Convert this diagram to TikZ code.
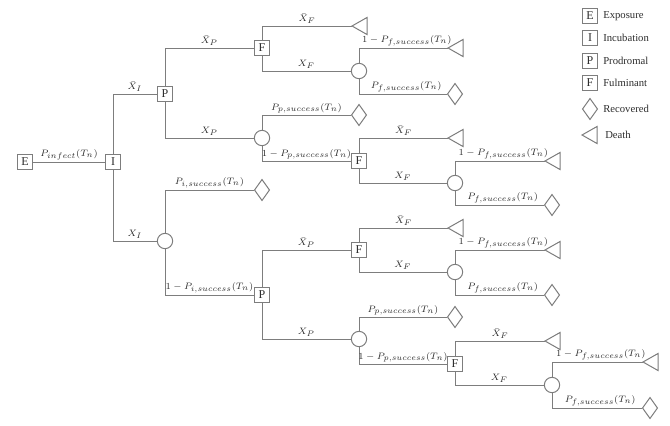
\documentclass[tikz,border=0pt]{standalone}
\usepackage{fontspec}
\setmainfont{Liberation Serif}
\DeclareMathSizes{7.5}{7.5}{6}{5}
\usetikzlibrary{shapes.geometric}
\definecolor{linegray}{RGB}{125,125,125}
\definecolor{txt}{RGB}{45,45,45}
\newcommand\deathmark[1]{\draw[shp] (#1) -- ++(15,-8.5) -- ++(0,17) -- cycle;}
\begin{document}
\begin{tikzpicture}[x=0.75pt,y=-0.75pt,
  ln/.style={draw=linegray, line width=0.75pt},
  shp/.style={draw=linegray, line width=0.75pt, fill=white},
  box/.style={shp, rectangle, minimum width=11.5pt, minimum height=11.5pt, inner sep=0pt, text=txt, font=\fontsize{9}{10}\selectfont},
  chance/.style={shp, circle, minimum size=11.5pt, inner sep=0pt},
  recov/.style={shp, diamond, minimum width=11.5pt, minimum height=16pt, inner sep=0pt},
  lab/.style={above, inner sep=1.2pt, text=txt, font=\fontsize{7.5}{8.5}\selectfont},
  flab/.style={lab, xshift=2.5pt},
  legtext/.style={anchor=west, inner sep=0pt, text=txt, font=\fontsize{8}{9}\selectfont},
]
\useasboundingbox (0,0) rectangle (670,425);

% decision / chance / outcome nodes
\node[box] (E) at (25,162) {E};
\node[box] (I) at (113,162) {I};
\node[box] (P1) at (165,94) {P};
\node[box] (F1) at (262,48) {F};
\node[chance] (C2) at (262,138) {};
\node[chance] (C3) at (359,71) {};
\node[recov] (D1) at (455,94) {};
\node[recov] (D2) at (359,115) {};
\node[box] (F2) at (359,161) {F};
\node[chance] (C4) at (455,183) {};
\node[recov] (D3) at (552,205) {};
\node[chance] (C1) at (165,241) {};
\node[recov] (D4) at (262,190) {};
\node[box] (P2) at (262,295) {P};
\node[box] (F3) at (359,250) {F};
\node[chance] (C5) at (359,339) {};
\node[chance] (C6) at (455,272) {};
\node[recov] (D5) at (552,295) {};
\node[recov] (D6) at (455,317) {};
\node[box] (F4) at (455,364) {F};
\node[chance] (C7) at (552,385) {};
\node[recov] (D7) at (650,408) {};

\coordinate (T1) at (352,26);
\coordinate (T2) at (448,48);
\coordinate (T3) at (448,138);
\coordinate (T4) at (545,161);
\coordinate (T5) at (448,228);
\coordinate (T6) at (545,250);
\coordinate (T7) at (545,341);
\coordinate (T8) at (643,362);
\deathmark{T1}\deathmark{T2}\deathmark{T3}\deathmark{T4}
\deathmark{T5}\deathmark{T6}\deathmark{T7}\deathmark{T8}

% connectors
\draw[ln] (E) -- node[lab]{$P_{infect}(T_n)$} (I);
\draw[ln] (I.north) |- node[lab,pos=0.75]{$\bar{X}_I$} (P1);
\draw[ln] (I.south) |- node[lab,pos=0.75]{$X_I$} (C1);
\draw[ln] (P1.north) |- node[lab,pos=0.75]{$\bar{X}_P$} (F1);
\draw[ln] (P1.south) |- node[lab,pos=0.75]{$X_P$} (C2);
\draw[ln] (F1.north) |- node[lab,pos=0.75]{$\bar{X}_F$} (T1);
\draw[ln] (F1.south) |- node[lab,pos=0.75]{$X_F$} (C3);
\draw[ln] (C3.north) |- node[flab,pos=0.75]{$1-P_{f,success}(T_n)$} (T2);
\draw[ln] (C3.south) |- node[flab,pos=0.75]{$P_{f,success}(T_n)$} (D1);
\draw[ln] (C2.north) |- node[lab,pos=0.75]{$P_{p,success}(T_n)$} (D2);
\draw[ln] (C2.south) |- node[lab,pos=0.75]{$1-P_{p,success}(T_n)$} (F2);
\draw[ln] (F2.north) |- node[lab,pos=0.75]{$\bar{X}_F$} (T3);
\draw[ln] (F2.south) |- node[lab,pos=0.75]{$X_F$} (C4);
\draw[ln] (C4.north) |- node[flab,pos=0.75]{$1-P_{f,success}(T_n)$} (T4);
\draw[ln] (C4.south) |- node[flab,pos=0.75]{$P_{f,success}(T_n)$} (D3);
\draw[ln] (C1.north) |- node[lab,pos=0.75]{$P_{i,success}(T_n)$} (D4);
\draw[ln] (C1.south) |- node[lab,pos=0.75]{$1-P_{i,success}(T_n)$} (P2);
\draw[ln] (P2.north) |- node[lab,pos=0.75]{$\bar{X}_P$} (F3);
\draw[ln] (P2.south) |- node[lab,pos=0.75]{$X_P$} (C5);
\draw[ln] (F3.north) |- node[lab,pos=0.75]{$\bar{X}_F$} (T5);
\draw[ln] (F3.south) |- node[lab,pos=0.75]{$X_F$} (C6);
\draw[ln] (C6.north) |- node[flab,pos=0.75]{$1-P_{f,success}(T_n)$} (T6);
\draw[ln] (C6.south) |- node[flab,pos=0.75]{$P_{f,success}(T_n)$} (D5);
\draw[ln] (C5.north) |- node[lab,pos=0.75]{$P_{p,success}(T_n)$} (D6);
\draw[ln] (C5.south) |- node[lab,pos=0.75]{$1-P_{p,success}(T_n)$} (F4);
\draw[ln] (F4.north) |- node[lab,pos=0.75]{$\bar{X}_F$} (T7);
\draw[ln] (F4.south) |- node[lab,pos=0.75]{$X_F$} (C7);
\draw[ln] (C7.north) |- node[flab,pos=0.75]{$1-P_{f,success}(T_n)$} (T8);
\draw[ln] (C7.south) |- node[flab,pos=0.75]{$P_{f,success}(T_n)$} (D7);

% legend
\node[box] (LE) at (590,16) {E};
\node[box] (LI) at (590,38) {I};
\node[box] (LP) at (590,61) {P};
\node[box] (LF) at (590,83) {F};
\node[recov] (LD) at (590,109) {};
\coordinate (LT) at (582,135);
\deathmark{LT}
\node[legtext] (tE) at (603,16) {Exposure};
\node[legtext] (tI) at (603,38) {Incubation};
\node[legtext] (tP) at (603,61) {Prodromal};
\node[legtext] (tF) at (603,83) {Fulminant};
\node[legtext] (tD) at (603,109) {Recovered};
\node[legtext] (tT) at (605,135) {Death};
\end{tikzpicture}
\end{document}
